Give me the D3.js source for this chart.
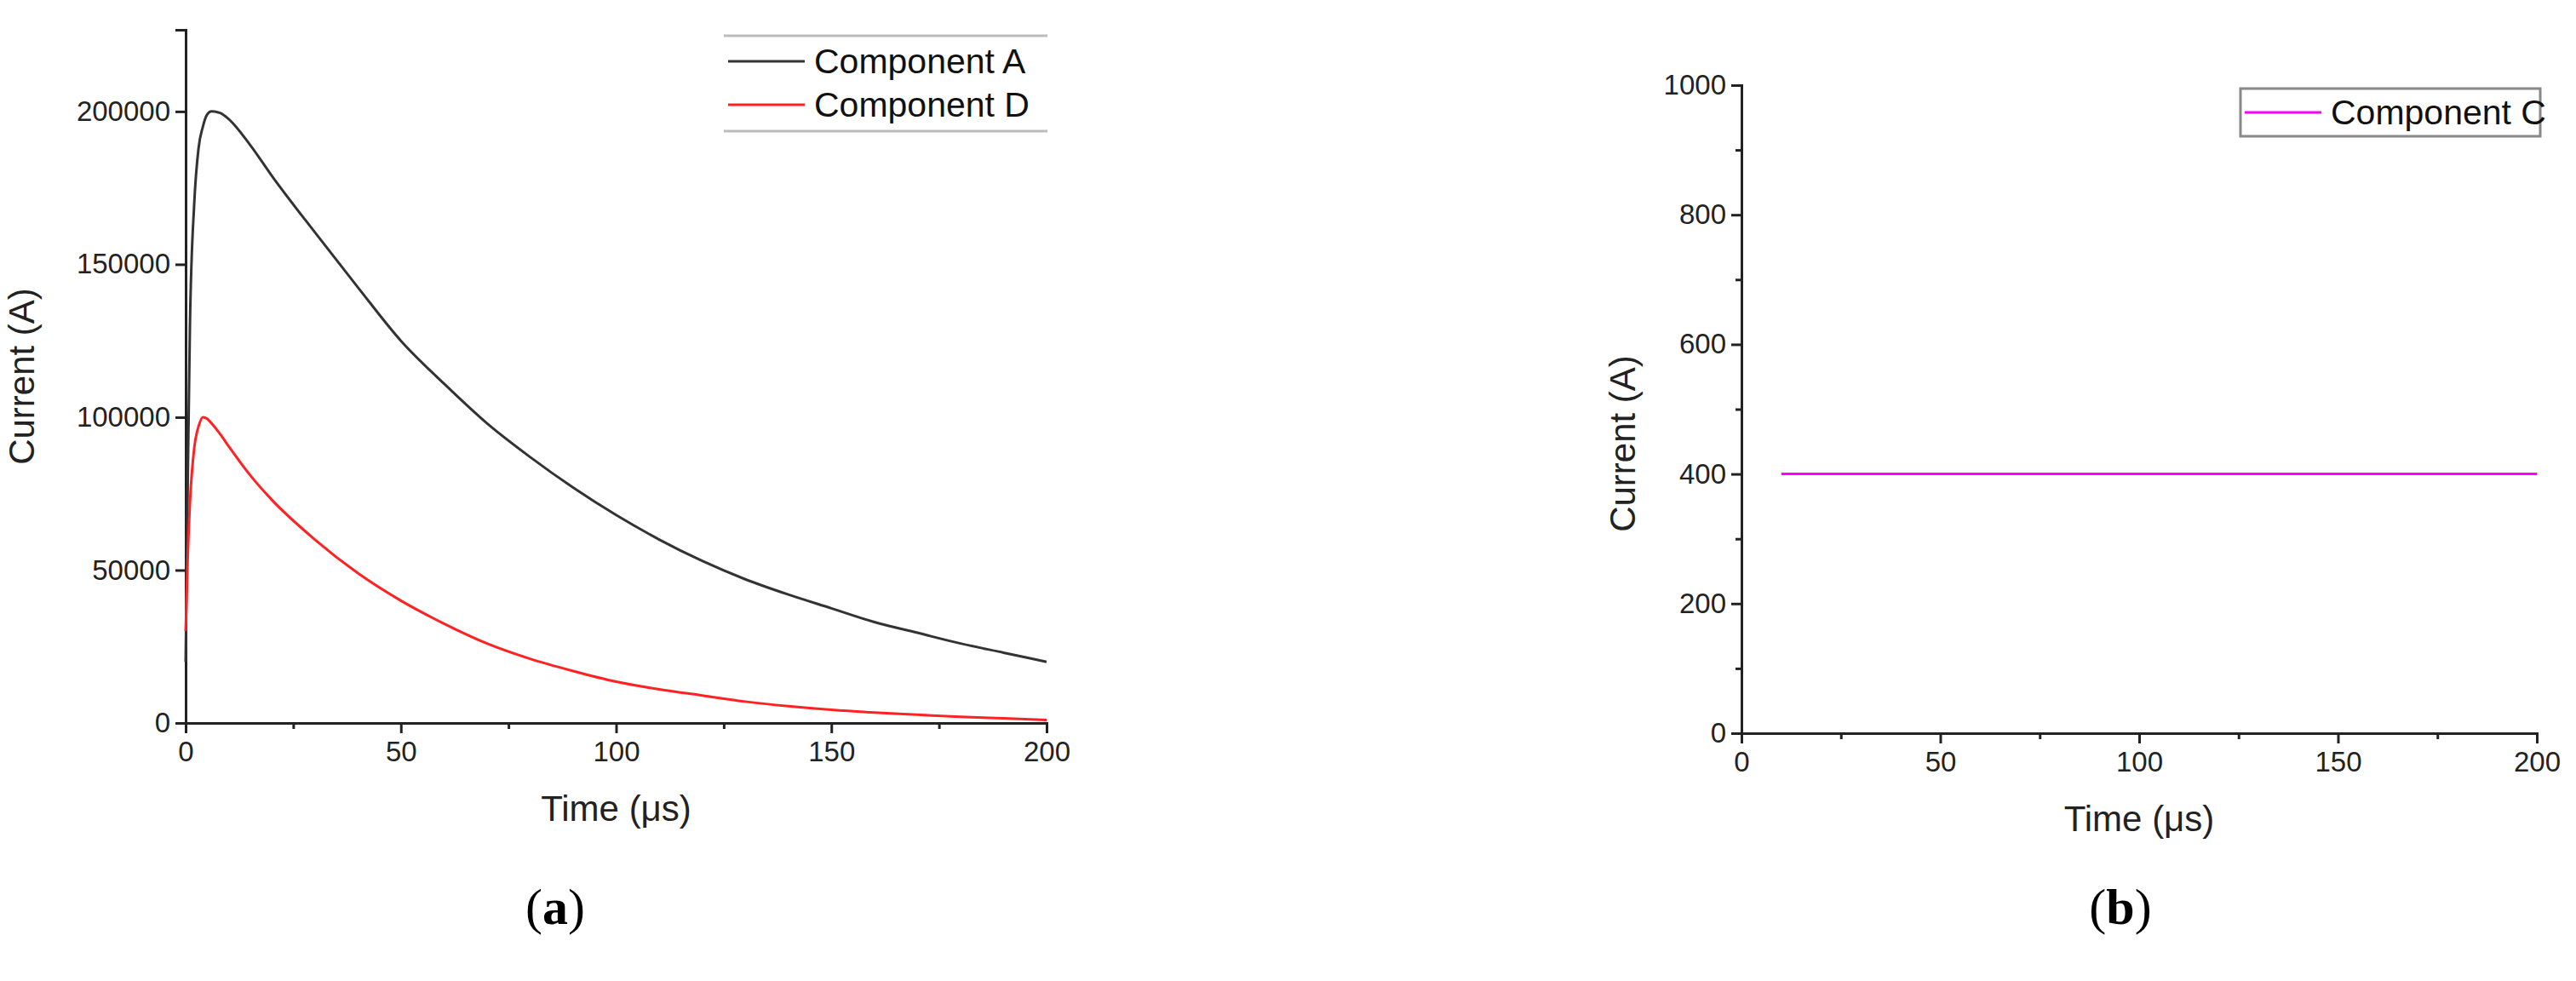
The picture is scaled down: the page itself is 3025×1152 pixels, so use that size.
<!DOCTYPE html>
<html><head><meta charset="utf-8">
<script src="https://cdn.jsdelivr.net/npm/d3@7"></script>
<style>body{margin:0;background:#fff}svg{display:block}</style>
</head><body>
<svg id="c" width="3025" height="1152"></svg>
<script>
const timeA = [0,0.5,1,2,3,4,5,6,8,10,15,20,30,40,50,60,70,80,90,100,110,120,130,140,150,160,170,180,190,200];
const compA = [20000,80000,130000,170000,188000,195000,199000,200000,199500,197500,189000,179000,160500,142500,125000,111000,98000,87000,77000,68000,60000,53000,47000,42000,37500,33000,29500,26000,23000,20000];
const timeD = [0,0.5,1,2,3,4,5,6,8,10,15,20,30,40,50,60,70,80,90,100,110,120,130,140,150,160,170,180,190,200];
const compD = [30000,55000,72000,90000,97000,100000,99500,98000,94500,90500,81000,73000,60000,49000,40000,32500,26000,21000,17000,13500,11000,9000,7000,5500,4300,3400,2700,2000,1500,1000];
const timeC = [10,200];
const compC = [400,400];
const xTicks = [0,50,100,150,200];
const yTicksA = [0,50000,100000,150000,200000];
const yTicksC = [0,200,400,600,800,1000];

const svg = d3.select("#c");
const font = "Arial, 'Liberation Sans', sans-serif";

function panel(o){
  const g = svg.append("g");
  const x = d3.scaleLinear().domain([0,200]).range([o.x0,o.x1]);
  const y = d3.scaleLinear().domain(o.ydom).range([o.y0,o.y1]);
  g.append("g").attr("transform",`translate(0,${o.y0})`)
    .call(d3.axisBottom(x).tickValues(xTicks).tickSize(12).tickPadding(10).tickFormat(d3.format("d")));
  g.append("g").attr("transform",`translate(0,${o.y0})`)
    .call(d3.axisBottom(x).tickValues([25,75,125,175]).tickSize(7).tickFormat(""))
    .select(".domain").remove();
  g.append("g").attr("transform",`translate(${o.x0},0)`)
    .call(d3.axisLeft(y).tickValues(o.yticks).tickSize(12).tickPadding(6).tickFormat(d3.format("d")));
  if(o.yminor) g.append("g").attr("transform",`translate(${o.x0},0)`)
    .call(d3.axisLeft(y).tickValues(o.yminor).tickSize(7).tickFormat(""))
    .select(".domain").remove();
  g.selectAll(".domain").attr("stroke","#222").attr("stroke-width",3);
  g.selectAll(".tick line").attr("stroke","#222").attr("stroke-width",3);
  g.selectAll(".tick text").attr("font-family",font).attr("font-size",33).attr("fill","#222");
  o.series.forEach(s=>{
    const line = d3.line().x((d,i)=>x(s.t[i])).y(d=>y(d)).curve(d3.curveMonotoneX);
    g.append("path").datum(s.v).attr("d",line).attr("fill","none").attr("stroke",s.color).attr("stroke-width",3);
  });
  g.append("text").attr("x",(o.x0+o.x1)/2).attr("y",o.y0+115).attr("text-anchor","middle")
    .attr("font-family",font).attr("font-size",42).attr("fill","#222").text("Time (μs)");
  g.append("text").attr("transform",`translate(${o.ytx},${o.yty}) rotate(-90)`).attr("text-anchor","middle")
    .attr("font-family",font).attr("font-size",42).attr("fill","#222").text("Current (A)");
  g.append("text").attr("x",o.labx).attr("y",1085).attr("text-anchor","middle")
    .attr("font-family","'Liberation Serif','DejaVu Serif',serif").attr("font-size",60).attr("fill","#000")
    .html(`(<tspan font-weight="bold">${o.lab}</tspan>)`);
  const L = o.leg;
  if(L.full){
    g.append("rect").attr("x",L.x).attr("y",L.y).attr("width",L.w).attr("height",L.h)
      .attr("fill","none").attr("stroke","#888").attr("stroke-width",3);
  } else {
    [L.y,L.y+L.h].forEach(yy=>g.append("line").attr("x1",L.x).attr("x2",L.x+L.w).attr("y1",yy).attr("y2",yy)
      .attr("stroke","#bbb").attr("stroke-width",3));
  }
  o.series.forEach((s,i)=>{
    const yy = L.y + L.first + i*L.step;
    g.append("line").attr("x1",L.x+5).attr("x2",L.x+95).attr("y1",yy).attr("y2",yy).attr("stroke",s.color).attr("stroke-width",3);
    g.append("text").attr("x",L.x+106).attr("y",yy).attr("dy","0.35em").attr("font-family",font)
      .attr("font-size",41).attr("fill","#111").text(s.name);
  });
}

panel({x0:218,x1:1229,y0:849,y1:35,ydom:[0,226700],yticks:yTicksA,ytx:40,yty:442,labx:652,lab:"a",
  series:[{t:timeA,v:compA,color:"#333",name:"Component A"},{t:timeD,v:compD,color:"#f22",name:"Component D"}],
  leg:{x:850,y:42,w:380,h:112,first:30,step:51,full:false}});
panel({x0:2045,x1:2979,y0:861,y1:100,ydom:[0,1000],yticks:yTicksC,yminor:[100,300,500,700,900],ytx:1920,yty:521,labx:2490,lab:"b",
  series:[{t:timeC,v:compC,color:"#f0f",name:"Component C"}],
  leg:{x:2631,y:104,w:352,h:56,first:28,step:0,full:true}});
</script>
</body></html>
